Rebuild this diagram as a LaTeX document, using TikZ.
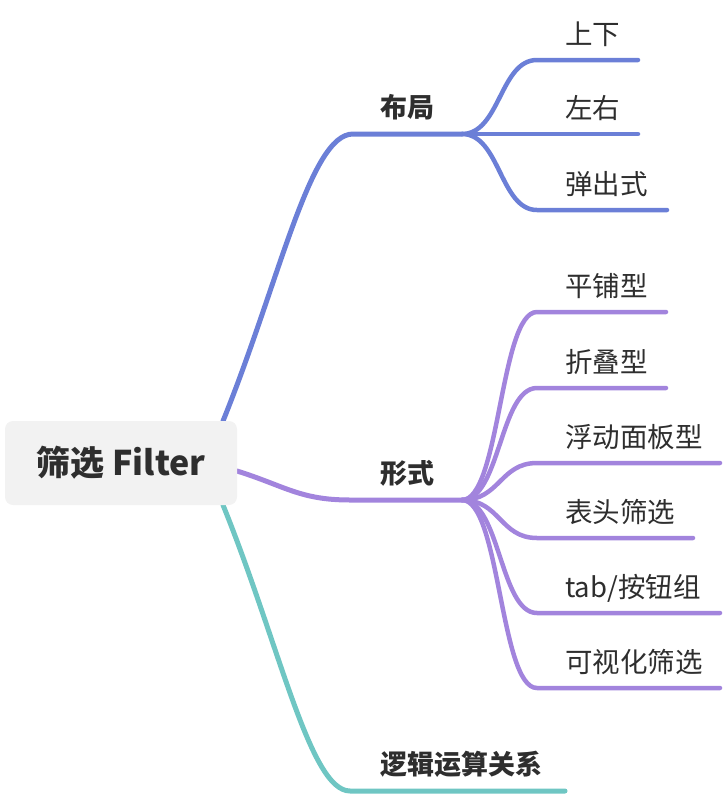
\documentclass[tikz,border=0pt]{standalone}
\usepackage{fontspec}
\setmainfont{Noto Sans CJK SC}
\definecolor{cBlue}{HTML}{6B7FD7}
\definecolor{cPurple}{HTML}{A284DD}
\definecolor{cTeal}{HTML}{6FC6C3}
\definecolor{ink}{HTML}{2E2E2E}
\begin{document}
\begin{tikzpicture}[
    x=1pt, y=-1pt,
    br/.style={line width=5pt, line cap=round},
    twig/.style={line width=4.5pt, line cap=round},
    root/.style={rounded corners=8pt, fill=black!5, minimum width=232pt, minimum height=84pt,
      text=ink, font=\fontsize{34}{40}\selectfont\bfseries},
    lab/.style={anchor=base west, inner sep=0pt, text=ink, font=\fontsize{27}{32}\selectfont\bfseries},
    leaf/.style={anchor=base west, inner sep=0pt, text=ink, font=\fontsize{27.5}{32}\selectfont}]
  \useasboundingbox (0,0) rectangle (724,796);
  % ends of the three main branches
  \coordinate (bj-in) at (223,421);
  \coordinate (bj-l)  at (353,134);
  \coordinate (bj-r)  at (462,134);
  \coordinate (xs-in) at (237,471);
  \coordinate (xs-l)  at (350,500);
  \coordinate (xs-r)  at (462,500);
  \coordinate (lj-in) at (223,505);
  \coordinate (lj-l)  at (350,791);
  \coordinate (lj-r)  at (565,791);
  \draw[br, cBlue]   (bj-in) .. controls (280,280) and (310,134) .. (bj-l) -- (bj-r);
  \draw[br, cPurple] (xs-in) .. controls (285,486) and (300,500) .. (xs-l) -- (xs-r);
  \draw[br, cTeal]   (lj-in) .. controls (280,646) and (310,791) .. (lj-l) -- (lj-r);
  % layout children
  \coordinate (b1-s) at (537,60);  \coordinate (b1-e) at (638,60);
  \coordinate (b2-s) at (537,134); \coordinate (b2-e) at (638,134);
  \coordinate (b3-s) at (537,210); \coordinate (b3-e) at (667,210);
  \draw[twig, cBlue] (bj-r) .. controls (500,134) and (500,60)  .. (b1-s) -- (b1-e);
  \draw[twig, cBlue] (bj-r) -- (b2-s) -- (b2-e);
  \draw[twig, cBlue] (bj-r) .. controls (500,134) and (500,210) .. (b3-s) -- (b3-e);
  % form children
  \coordinate (f1-s) at (537,312); \coordinate (f1-e) at (666,312);
  \coordinate (f2-s) at (537,388); \coordinate (f2-e) at (666,388);
  \coordinate (f3-s) at (537,463); \coordinate (f3-e) at (720,463);
  \coordinate (f4-s) at (537,538); \coordinate (f4-e) at (693,538);
  \coordinate (f5-s) at (537,613); \coordinate (f5-e) at (720,613);
  \coordinate (f6-s) at (537,688); \coordinate (f6-e) at (720,688);
  \draw[twig, cPurple] (xs-r) .. controls (500,500) and (500,312) .. (f1-s) -- (f1-e);
  \draw[twig, cPurple] (xs-r) .. controls (500,500) and (500,388) .. (f2-s) -- (f2-e);
  \draw[twig, cPurple] (xs-r) .. controls (500,500) and (500,463) .. (f3-s) -- (f3-e);
  \draw[twig, cPurple] (xs-r) .. controls (500,500) and (500,538) .. (f4-s) -- (f4-e);
  \draw[twig, cPurple] (xs-r) .. controls (500,500) and (500,613) .. (f5-s) -- (f5-e);
  \draw[twig, cPurple] (xs-r) .. controls (500,500) and (500,688) .. (f6-s) -- (f6-e);
  % texts
  \node[root] (root) at (121,463) {筛选 Filter};
  \node[lab] (bj) at (380,117) {布局};
  \node[lab] (xs) at (380,483) {形式};
  \node[lab] (lj) at (380,774) {逻辑运算关系};
  \node[leaf] (b1) at (565,44)  {上下};
  \node[leaf] (b2) at (565,118) {左右};
  \node[leaf] (b3) at (565,194) {弹出式};
  \node[leaf] (f1) at (565,296) {平铺型};
  \node[leaf] (f2) at (565,372) {折叠型};
  \node[leaf] (f3) at (565,447) {浮动面板型};
  \node[leaf] (f4) at (565,522) {表头筛选};
  \node[leaf] (f5) at (565,597) {tab/按钮组};
  \node[leaf] (f6) at (565,672) {可视化筛选};
\end{tikzpicture}
\end{document}
